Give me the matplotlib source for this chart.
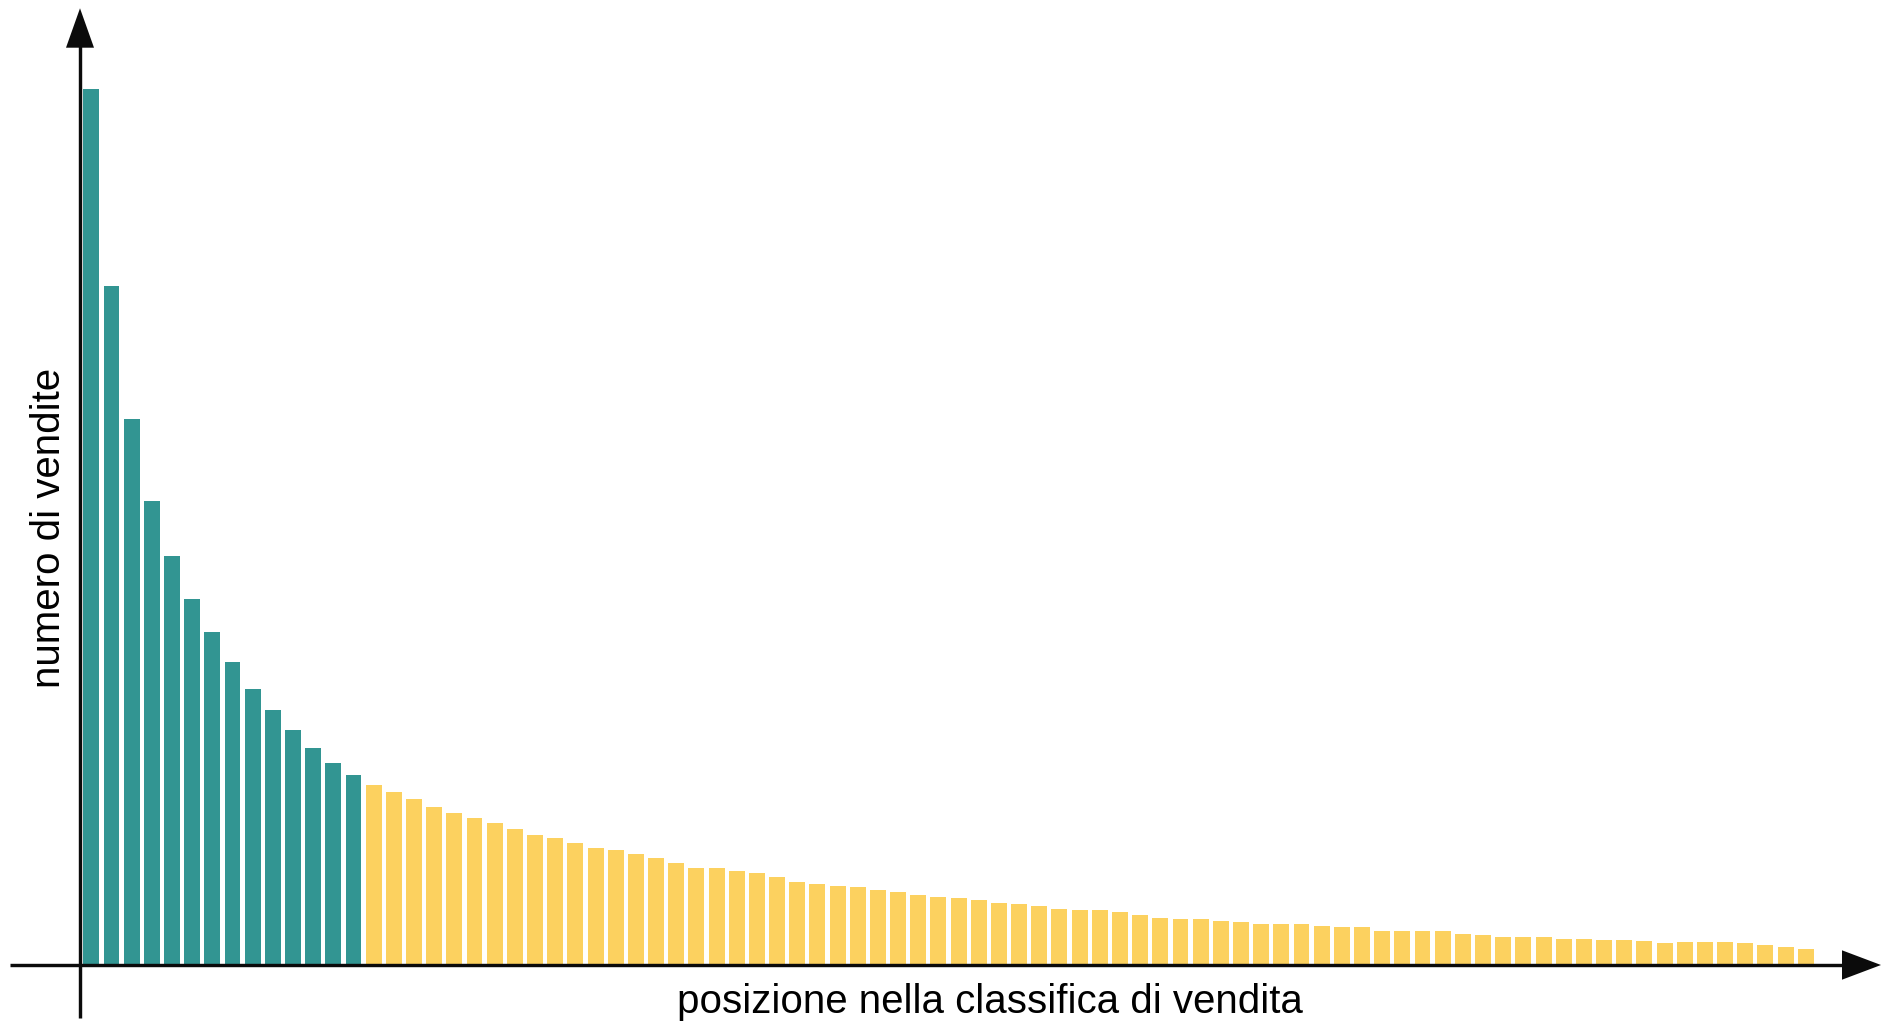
import matplotlib
matplotlib.use("Agg")
import matplotlib.pyplot as plt
from matplotlib.patches import Polygon
import numpy as np

# ---- data (sales by rank, arbitrary units) ----
sales = [875.7, 679.0, 545.7, 464.3, 409.3, 366.0, 332.7, 302.7, 276.0, 254.7,
         234.7, 216.7, 201.7, 189.7,
         180.0, 173.3, 165.7, 158.3, 152.0, 147.0, 141.7, 135.7, 130.0, 127.0,
         122.3, 117.3, 114.7, 111.3, 107.0, 102.0, 97.3, 97.3, 94.3, 91.7,
         87.7, 83.0, 81.3, 79.3, 78.3, 75.3, 72.7, 69.7, 68.3, 66.7,
         65.3, 62.3, 61.3, 59.0, 56.3, 54.7, 54.7, 52.7, 50.3, 46.7,
         45.7, 45.7, 43.7, 42.7, 40.7, 40.7, 41.0, 39.0, 38.0, 38.0,
         34.3, 34.3, 34.0, 33.7, 30.7, 29.7, 28.0, 27.7, 27.7, 25.7,
         25.7, 24.7, 24.7, 23.7, 22.0, 22.7, 22.7, 22.7, 21.7, 20.0,
         18.0, 16.3]
n_head = 14  # number of top sellers (teal)
xlabel = "posizione nella classifica di vendita"
ylabel = "numero di vendite"

teal = "#329592"
yellow = "#FCD15F"
ink = "#0b0b0b"

W, H = 1891, 1021
fig = plt.figure(figsize=(W / 100, H / 100), dpi=100)
fig.patch.set_facecolor("white")

# layout constants (pixels)
x_first = 91.3   # centre of first bar
pitch = 20.17    # bar spacing
base = 965.0     # baseline

ax = fig.add_axes([0, 0, 1, 1])
ax.axis("off")
ax.set_xlim(-x_first / pitch, (W - x_first) / pitch)
ax.set_ylim(-(H - base), base)

ranks = np.arange(len(sales))
cols = [teal if i < n_head else yellow for i in ranks]
ax.bar(ranks, sales, width=0.79, color=cols, linewidth=0, zorder=1)

# overlay in pixel coordinates for the axis arrows and labels
ov = fig.add_axes([0, 0, 1, 1])
ov.set_xlim(0, W)
ov.set_ylim(H, 0)
ov.axis("off")
ov.patch.set_alpha(0)

lw_pt = 3.4 * 72 / 100
# x axis
ov.plot([10, 1845], [base, base], color=ink, lw=lw_pt, solid_capstyle="butt", zorder=3)
ov.add_patch(Polygon([[1842, base - 14.7], [1881, base], [1842, base + 14.7]],
                     closed=True, facecolor=ink, edgecolor="none", zorder=3))
# y axis
ov.plot([80, 80], [1018, 45], color=ink, lw=lw_pt, solid_capstyle="butt", zorder=3)
ov.add_patch(Polygon([[66, 47.7], [80, 8.3], [94, 47.7]],
                     closed=True, facecolor=ink, edgecolor="none", zorder=3))

font = ["Liberation Sans", "DejaVu Sans"]
ov.text(990, 1013, xlabel, ha="center", va="baseline", fontsize=29,
        family=font, color="black")
ov.text(60, 527.5, ylabel, ha="center", va="baseline", fontsize=29,
        family=font, color="black", rotation=90, rotation_mode="anchor")

fig.savefig("out.png", dpi=100, facecolor="white")
